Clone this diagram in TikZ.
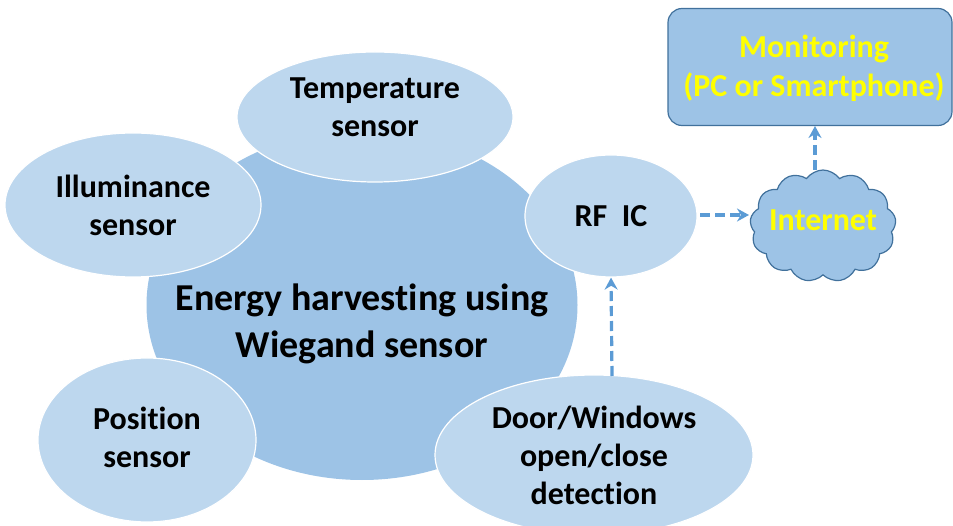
\documentclass[tikz,border=0pt]{standalone}
\usepackage{fontspec}
\setmainfont{Carlito}[Ligatures=NoCommon]
\usetikzlibrary{arrows.meta,positioning,shapes.geometric,shapes.symbols}
\definecolor{hubblue}{HTML}{9DC3E6}
\definecolor{leafblue}{HTML}{BDD7EE}
\definecolor{edgeblue}{HTML}{41719C}
\definecolor{linkblue}{HTML}{5B9BD5}
\definecolor{labelyellow}{HTML}{FFFF00}
\tikzset{
  leaf/.style={ellipse,fill=leafblue,draw=white,line width=1.2pt,inner sep=0pt,align=center,font=\bfseries\fontsize{32}{38}\selectfont},
  leaftext/.style={inner sep=0pt,align=center,font=\bfseries\fontsize{32}{38}\selectfont},
  link/.style={linkblue,line width=3.2pt,dash pattern=on 10pt off 5pt,-{Stealth[length=12pt,width=13pt]}}
}

\begin{document}
\begin{tikzpicture}[x=1pt,y=-1pt]
\useasboundingbox (0,0) rectangle (953,526);
\node[ellipse,fill=hubblue,inner sep=0pt,minimum width=431pt,minimum height=350pt] (hub) at (362,305) {};
\node[inner sep=0pt,align=center,font=\bfseries\fontsize{38}{47}\selectfont] (hubtext) at (362,324) {Energy harvesting using\\Wiegand sensor};
\node[leaf,minimum width=276pt,minimum height=130pt] (temp) at (375,117) {};
\node[leaftext] (temptext) at (375,107) {Temperature\\sensor};
\node[leaf,minimum width=256pt,minimum height=144pt] (illum) at (133,205) {Illuminance\\sensor};
\node[leaf,minimum width=218pt,minimum height=164pt] (pos) at (147,440) {};
\node[leaftext] (postext) at (147,437) {Position\\sensor};
\node[leaf,minimum width=318pt,minimum height=160pt] (door) at (594,455) {Door/Windows\\open/close\\detection};
\node[leaf,minimum width=172pt,minimum height=122pt] (rfic) at (611,216) {RF~~IC};
\node[cloud,cloud puffs=13,cloud puff arc=110,aspect=1.3,fill=hubblue,draw=edgeblue,line width=1.2pt,minimum width=146pt,minimum height=112pt,inner sep=0pt] (net) at (823,226) {};
\node[leaftext,text=labelyellow] (nettext) at (823,220) {Internet};
\node[rectangle,rounded corners=14pt,fill=hubblue,draw=edgeblue,line width=1.2pt,minimum width=284pt,minimum height=117pt] (mon) at (810,67) {};
\node[inner sep=0pt,align=center,font=\bfseries\fontsize{32}{39}\selectfont,text=labelyellow] (montext) at (814,68) {Monitoring\\(PC or Smartphone)};
\coordinate (rfRight) at (700,215);
\coordinate (netLeft) at (749,215);
\coordinate (netTop) at (815,170);
\coordinate (monBot) at (815,126);
\coordinate (doorTop) at (612,376);
\draw[link] (rfRight) -- (netLeft);
\draw[link] (netTop) -- (monBot);
\draw[link] (doorTop) -- (rfic.south);
\end{tikzpicture}
\end{document}
